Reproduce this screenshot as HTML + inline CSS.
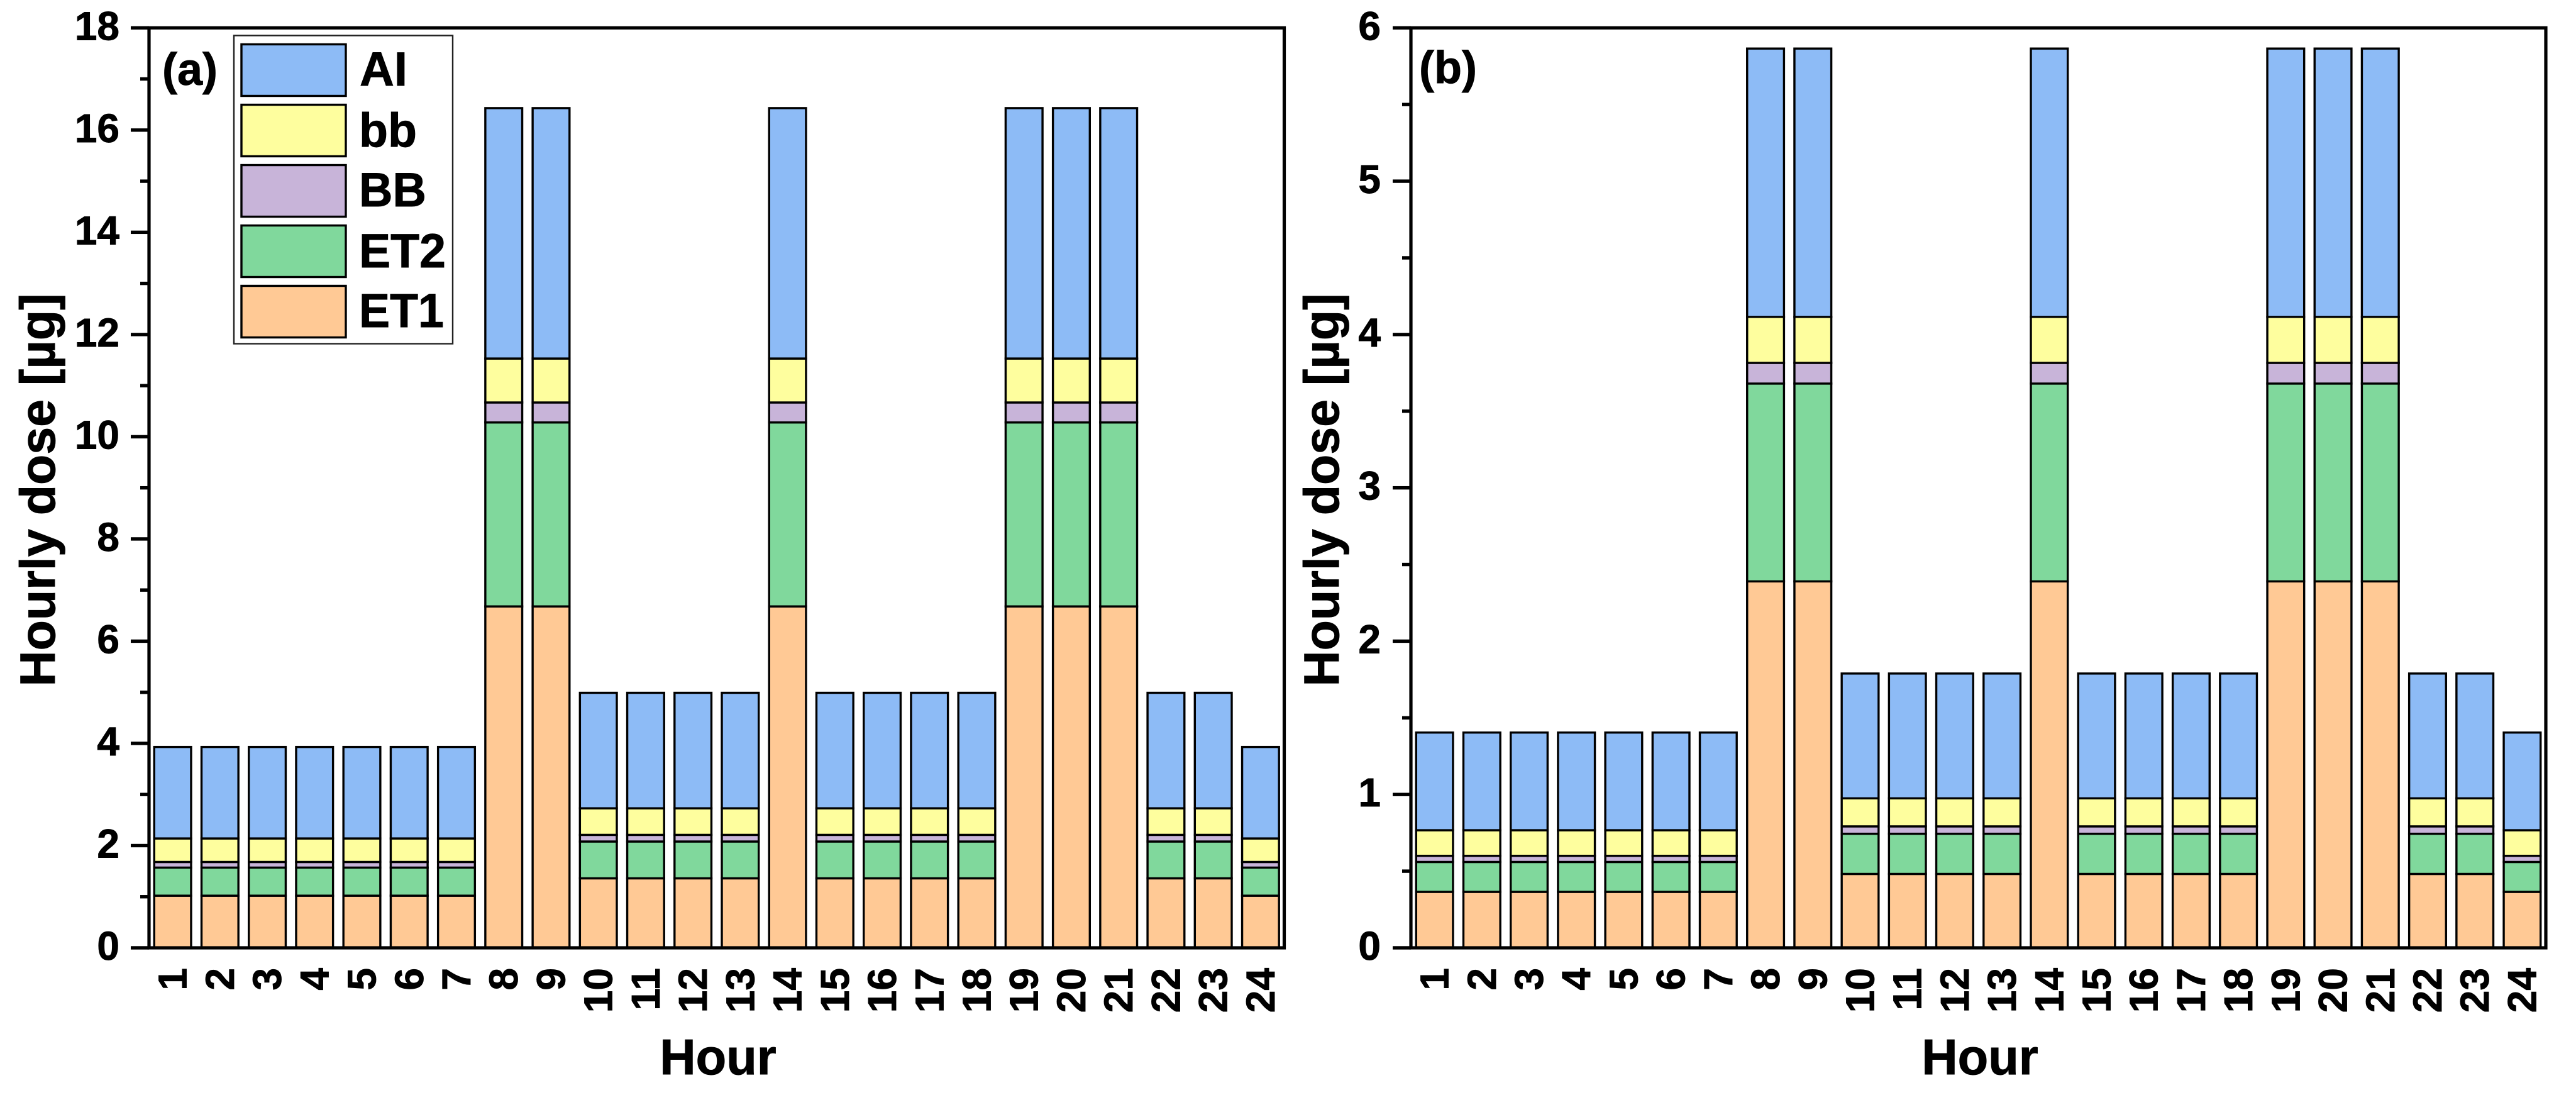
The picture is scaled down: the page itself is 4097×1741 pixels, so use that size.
<!DOCTYPE html>
<html lang="en">
<head>
<meta charset="utf-8">
<title>Hourly dose charts</title>
<style>
html,body{margin:0;padding:0;background:#fff}
svg{display:block}
text{font-family:"Liberation Sans",Arial,sans-serif;font-weight:bold;fill:#000;stroke:#000;stroke-width:0.9px}
</style>
</head>
<body>
<svg id="figure" xmlns="http://www.w3.org/2000/svg" width="4097" height="1741" viewBox="0 0 4097 1741">
  <rect x="0" y="0" width="4097" height="1741" fill="#fff"/>
  <g id="panel-a"></g>
  <g id="panel-b"></g>

  <text x="258" y="135" font-size="72">(a)</text>
  <text x="2257" y="132" font-size="72">(b)</text>

  <text text-anchor="middle" font-size="79" transform="translate(87 779) rotate(-90)">Hourly dose [µg]</text>
  <text text-anchor="middle" font-size="79" transform="translate(2129 779) rotate(-90)">Hourly dose [µg]</text>
  <text text-anchor="middle" font-size="79.5" x="1142" y="1708">Hour</text>
  <text text-anchor="middle" font-size="79.5" x="3149" y="1708">Hour</text>

  <g>
    <rect x="372" y="56.5" width="348" height="490" fill="#fff" stroke="#222" stroke-width="2.4"/>
    <g>
      <rect x="384" y="70.5" width="166" height="82" fill="#8dbbf6" stroke="#000" stroke-width="3.4"/>
      <text x="572" y="136" font-size="76" textLength="76" lengthAdjust="spacingAndGlyphs">AI</text>
    </g>
    <g>
      <rect x="384" y="166.5" width="166" height="82" fill="#fefe9e" stroke="#000" stroke-width="3.4"/>
      <text x="571" y="233" font-size="76" textLength="92" lengthAdjust="spacingAndGlyphs">bb</text>
    </g>
    <g>
      <rect x="384" y="262.5" width="166" height="82" fill="#c8b4d9" stroke="#000" stroke-width="3.4"/>
      <text x="571" y="328" font-size="76" textLength="107" lengthAdjust="spacingAndGlyphs">BB</text>
    </g>
    <g>
      <rect x="384" y="358.5" width="166" height="82" fill="#80d89c" stroke="#000" stroke-width="3.4"/>
      <text x="571" y="425" font-size="76" textLength="138" lengthAdjust="spacingAndGlyphs">ET2</text>
    </g>
    <g>
      <rect x="384" y="454.5" width="166" height="82" fill="#ffc995" stroke="#000" stroke-width="3.4"/>
      <text x="571" y="520" font-size="76" textLength="135" lengthAdjust="spacingAndGlyphs">ET1</text>
    </g>
  </g>
</svg>

<script>
const hours = [1,2,3,4,5,6,7,8,9,10,11,12,13,14,15,16,17,18,19,20,21,22,23,24];
const seriesNames = ['ET1','ET2','BB','bb','AI'];
const seriesColors = ['#ffc995','#80d89c','#c8b4d9','#fefe9e','#8dbbf6'];

// Panel (a) values, µg per hour
const aET1 = [1.02,1.02,1.02,1.02,1.02,1.02,1.02,6.68,6.68,1.36,1.36,1.36,1.36,6.68,1.36,1.36,1.36,1.36,6.68,6.68,6.68,1.36,1.36,1.02];
const aET2 = [0.55,0.55,0.55,0.55,0.55,0.55,0.55,3.60,3.60,0.72,0.72,0.72,0.72,3.60,0.72,0.72,0.72,0.72,3.60,3.60,3.60,0.72,0.72,0.55];
const aBBU = [0.11,0.11,0.11,0.11,0.11,0.11,0.11,0.39,0.39,0.13,0.13,0.13,0.13,0.39,0.13,0.13,0.13,0.13,0.39,0.39,0.39,0.13,0.13,0.11];
const aBBL = [0.46,0.46,0.46,0.46,0.46,0.46,0.46,0.86,0.86,0.52,0.52,0.52,0.52,0.86,0.52,0.52,0.52,0.52,0.86,0.86,0.86,0.52,0.52,0.46];
const aAI  = [1.79,1.79,1.79,1.79,1.79,1.79,1.79,4.90,4.90,2.26,2.26,2.26,2.26,4.90,2.26,2.26,2.26,2.26,4.90,4.90,4.90,2.26,2.26,1.79];

// Panel (b) values, µg per hour
const bET1 = [0.365,0.365,0.365,0.365,0.365,0.365,0.365,2.39,2.39,0.482,0.482,0.482,0.482,2.39,0.482,0.482,0.482,0.482,2.39,2.39,2.39,0.482,0.482,0.365];
const bET2 = [0.195,0.195,0.195,0.195,0.195,0.195,0.195,1.29,1.29,0.262,0.262,0.262,0.262,1.29,0.262,0.262,0.262,0.262,1.29,1.29,1.29,0.262,0.262,0.195];
const bBBU = [0.04,0.04,0.04,0.04,0.04,0.04,0.04,0.135,0.135,0.048,0.048,0.048,0.048,0.135,0.048,0.048,0.048,0.048,0.135,0.135,0.135,0.048,0.048,0.04];
const bBBL = [0.167,0.167,0.167,0.167,0.167,0.167,0.167,0.30,0.30,0.183,0.183,0.183,0.183,0.30,0.183,0.183,0.183,0.183,0.30,0.30,0.30,0.183,0.183,0.167];
const bAI  = [0.637,0.637,0.637,0.637,0.637,0.637,0.637,1.75,1.75,0.814,0.814,0.814,0.814,1.75,0.814,0.814,0.814,0.814,1.75,1.75,1.75,0.814,0.814,0.637];

const aMajorTicks = [0,2,4,6,8,10,12,14,16,18];
const aMinorTicks = [1,3,5,7,9,11,13,15,17];
const bMajorTicks = [0,1,2,3,4,5,6];
const bMinorTicks = [0.5,1.5,2.5,3.5,4.5,5.5];
const aYMax = 18;
const bYMax = 6;

const NS = 'http://www.w3.org/2000/svg';

function make(tag, parent, props) {
  const el = document.createElementNS(NS, tag);
  for (const key in props) el.setAttribute(key, props[key]);
  parent.appendChild(el);
  return el;
}

function drawPanel(id, left, right, yMax, series, majorTicks, minorTicks, tickLabelX) {
  const group = document.getElementById(id);
  const top = 44.3;
  const bottom = 1507;
  const xScale = (hour) => left + (hour - 0.5) * (right - left) / hours.length;
  const yScale = (value) => bottom - value * (bottom - top) / yMax;
  const barWidth = 0.78 * (right - left) / hours.length;

  hours.forEach((hour, i) => {
    let base = 0;
    series.forEach((values, s) => {
      const next = base + values[i];
      const bar = make('rect', group, {
        x: xScale(hour) - barWidth / 2,
        y: yScale(next),
        width: barWidth,
        height: yScale(base) - yScale(next),
        fill: seriesColors[s],
        stroke: '#000',
        'stroke-width': 3.4
      });
      
      
      base = next;
    });

    const label = make('text', group, {
      'font-size': 64,
      'text-anchor': 'end',
      transform: 'translate(' + (xScale(hour) + 22) + ' 1539) rotate(-90)'
    });
    label.textContent = hour;
    
    
  });

  majorTicks.forEach((value) => {
    const tick = make('rect', group, {
      x: left - 29, y: yScale(value) - 2.7, width: 29, height: 5.4, fill: '#000'
    });
    
    

    const label = make('text', group, {
      x: tickLabelX, y: yScale(value) + 19, 'font-size': 64, 'text-anchor': 'end'
    });
    label.textContent = value;
    
    
  });

  minorTicks.forEach((value) => {
    const tick = make('rect', group, {
      x: left - 14, y: yScale(value) - 2.7, width: 14, height: 5.4, fill: '#000'
    });
    
    
  });

  const frame = make('rect', group, {
    x: left, y: top, width: right - left, height: bottom - top,
    fill: 'none', stroke: '#000', 'stroke-width': 5.2
  });
  
  
}

drawPanel('panel-a', 237, 2042.5, aYMax, [aET1, aET2, aBBU, aBBL, aAI], aMajorTicks, aMinorTicks, 190);
drawPanel('panel-b', 2244, 4049, bYMax, [bET1, bET2, bBBU, bBBL, bAI], bMajorTicks, bMinorTicks, 2196);
</script>
</body>
</html>
